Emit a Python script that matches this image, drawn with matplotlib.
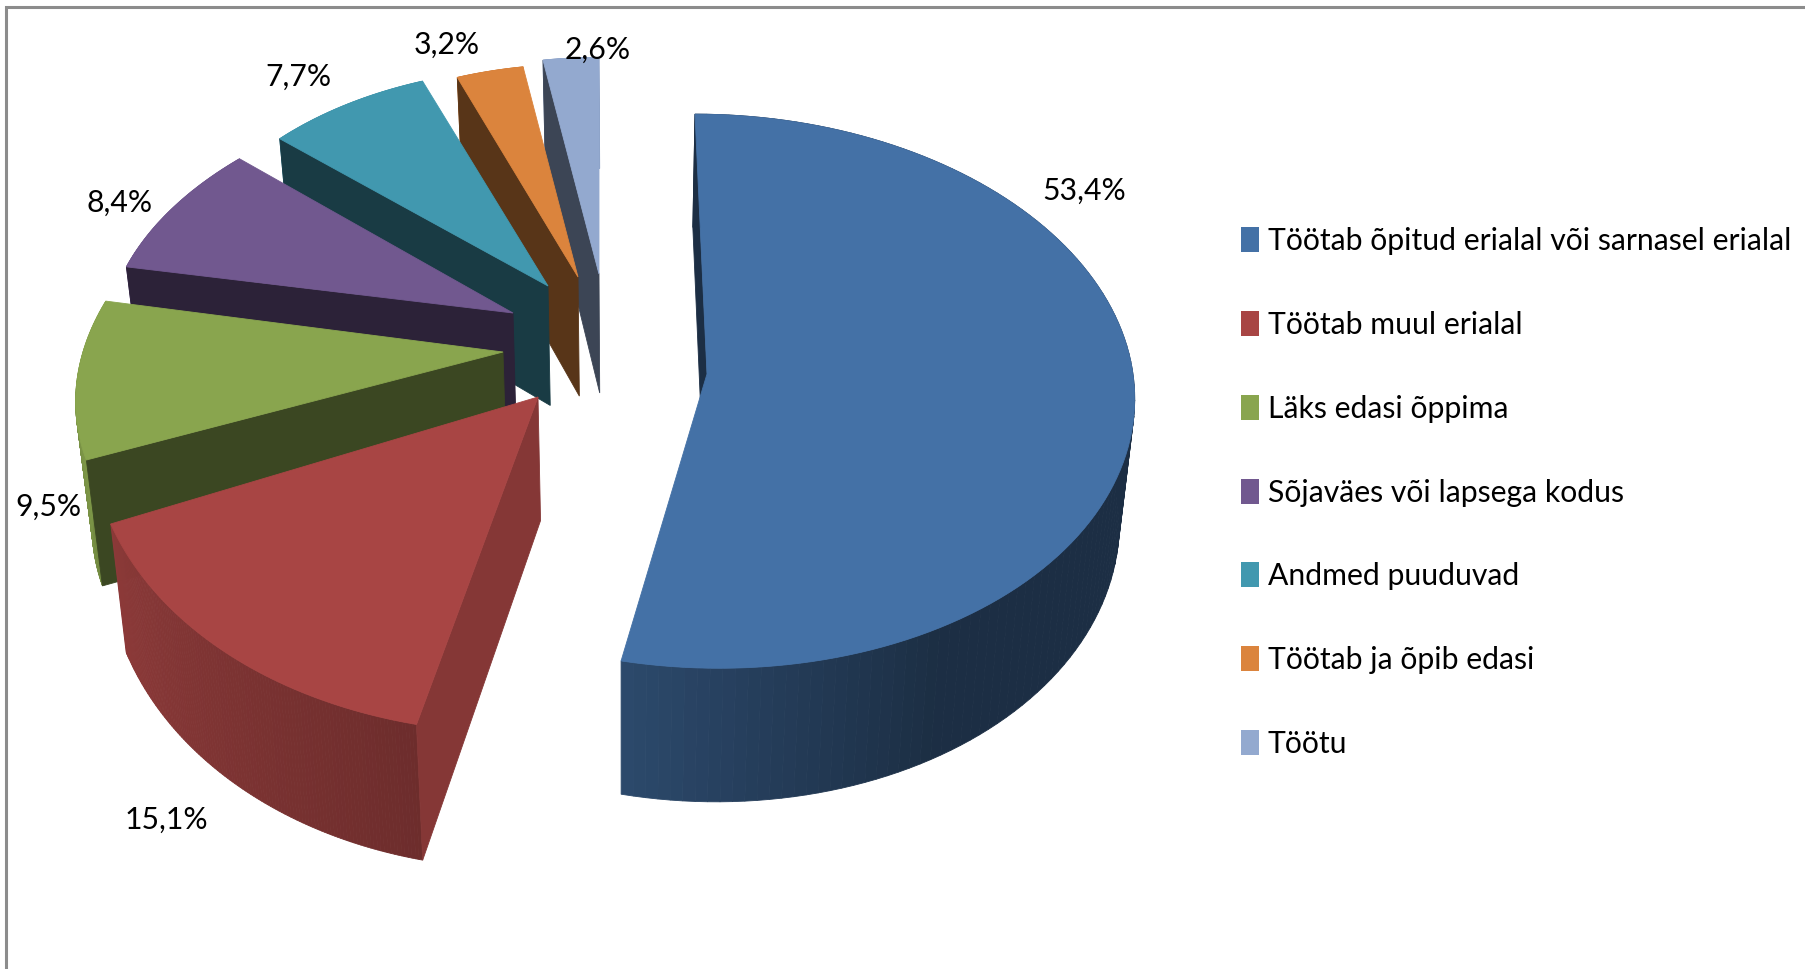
import numpy as np
import matplotlib
matplotlib.use("Agg")
import matplotlib.pyplot as plt
from matplotlib.colors import to_rgb
from matplotlib.patches import Rectangle

plt.rcParams['font.family'] = ['Lato', 'Liberation Sans', 'DejaVu Sans']

# Data
categories = ['Töötab õpitud erialal või sarnasel erialal', 'Töötab muul erialal', 'Läks edasi õppima',
              'Sõjaväes või lapsega kodus', 'Andmed puuduvad', 'Töötab ja õpib edasi', 'Töötu']
values = [53.4, 15.1, 9.5, 8.4, 7.7, 3.2, 2.6]
value_labels = ['53,4%', '15,1%', '9,5%', '8,4%', '7,7%', '3,2%', '2,6%']

# Styles
colors = ['#4471A6', '#A84544', '#89A54E', '#71588F', '#4198AF', '#DB843D', '#93A9CF']
cut_shade = [0.41, 0.79, 0.43, 0.39, 0.39, 0.40, 0.41]

# Layout of the exploded slices, in pixels of the picture
apex_x = [707, 538, 503, 513, 548, 578, 599]
apex_y = [375, 398, 353, 314, 287, 278, 275]
radius_x = [426, 445, 420, 404, 372, 358, 365]
radius_y = [276, 315, 268, 243, 232, 226, 230]
skew = [-12, 20, 53, 27, 0, 0, 0]
label_x = [1084, 166, 48, 120, 298, 447, 598]
label_y = [191, 820, 507, 203, 77, 45, 50]
legend_y = [240, 324, 408, 492, 575, 659, 743]
persp = 0.062
vanish_x = 623
vanish_s = 0.03


def rim_point(i, theta):
    s, c = np.sin(theta), np.cos(theta)
    w = 1 + persp * c
    return apex_x[i] + radius_x[i] * s / w + skew[i] * c, apex_y[i] - radius_y[i] * c / w


def drop(x, y):
    # same point at the bottom of the pie
    depth = 119 + (y - 275) * 0.037
    return x + (vanish_x - x) * vanish_s, y + depth


def shade(color, factor):
    return tuple(np.array(to_rgb(color)) * factor)


def side_shade(deg):
    return np.interp(deg, [0, 150, 192, 246, 270, 360], [0.41, 0.41, 0.65, 0.83, 0.95, 0.95])


fig = plt.figure(figsize=(18.06, 9.7), dpi=100)
ax = fig.add_axes([0, 0, 1, 1])
ax.set_xlim(0, 1806)
ax.set_ylim(970, 0)
ax.axis('off')

# Frame
ax.plot([6, 6, 1806], [970, 8, 8], color='#8C8C8C', lw=2.2, solid_joinstyle='miter')

# Slices, back to front
edges = np.concatenate([[0], np.cumsum(values)]) / np.sum(values) * 2 * np.pi
order = [6, 5, 4, 3, 2, 1, 0]
z = 2
for i in order:
    a0, a1 = edges[i], edges[i + 1]
    thetas = np.linspace(a0, a1, 120)
    xs, ys = rim_point(i, thetas)

    # outer side, as small strips to get the gradient
    for j in range(len(thetas) - 1):
        x0, y0 = xs[j], ys[j]
        x1, y1 = xs[j + 1], ys[j + 1]
        bx0, by0 = drop(x0, y0)
        bx1, by1 = drop(x1, y1)
        col = shade(colors[i], side_shade(np.degrees(thetas[j])))
        ax.fill([x0, x1, bx1, bx0], [y0, y1, by1, by0], color=col, lw=0.6, zorder=z)
    z += 1

    # cut face under the first edge of the slice
    bx, by = drop(xs[0], ys[0])
    cx, cy = drop(apex_x[i], apex_y[i])
    ax.fill([xs[0], apex_x[i], cx, bx], [ys[0], apex_y[i], cy, by],
            color=shade(colors[i], cut_shade[i]), lw=0.6, zorder=z)
    z += 1

    # top
    ax.fill(np.r_[apex_x[i], xs], np.r_[apex_y[i], ys], color=colors[i], lw=0.6, zorder=z)
    z += 1

# Value labels
for x, y, t in zip(label_x, label_y, value_labels):
    ax.text(x, y, t, ha='center', va='center', fontsize=21.7, color='black', zorder=z)

# Legend
for y, name, col in zip(legend_y, categories, colors):
    ax.add_patch(Rectangle((1241, y - 12.5), 18, 25, facecolor=col, edgecolor='none', zorder=z))
    ax.text(1268, y + 1, name, ha='left', va='center', fontsize=21.7, color='black', zorder=z)

fig.savefig('out.png', dpi=100)
